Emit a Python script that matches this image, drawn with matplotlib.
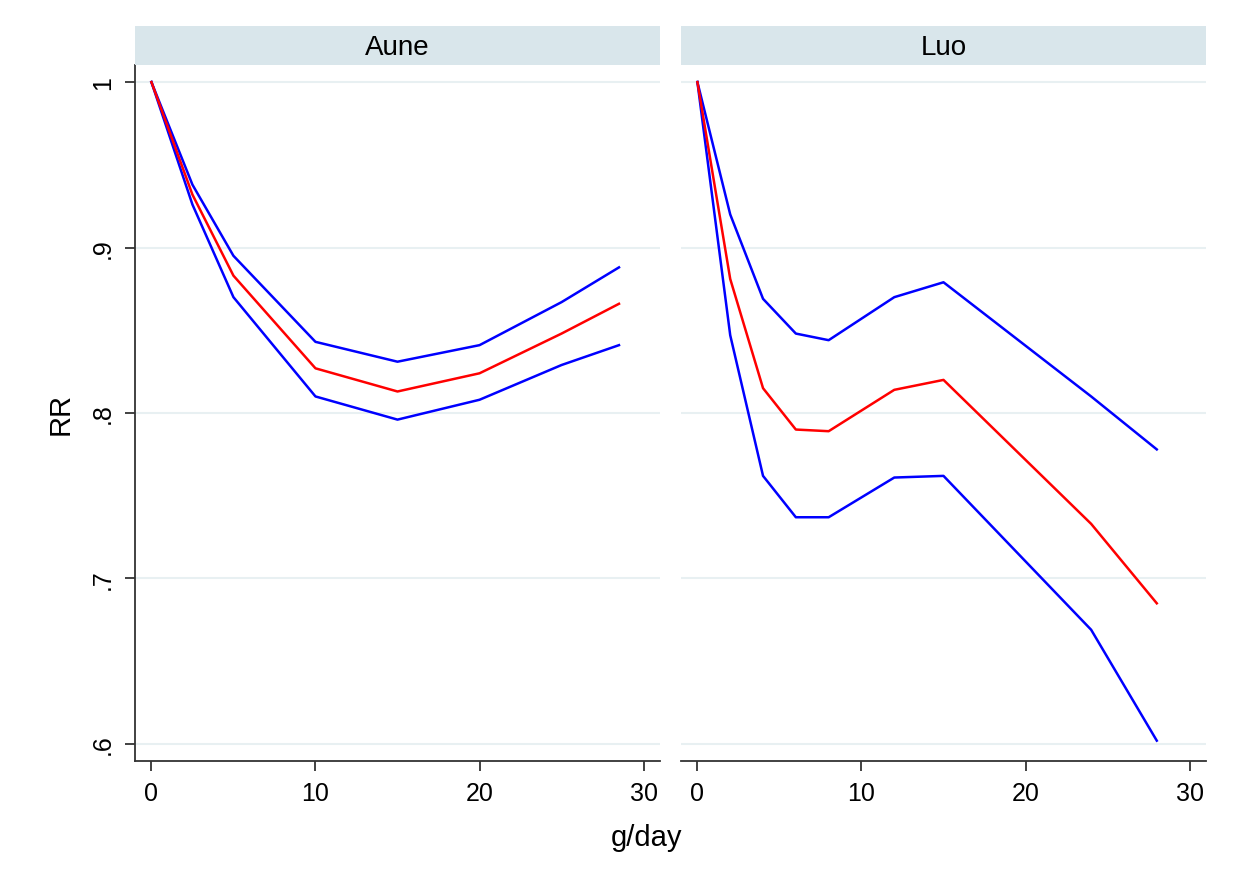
import matplotlib
matplotlib.use("Agg")
import matplotlib.pyplot as plt
from matplotlib.patches import Rectangle

plt.rcParams['font.family'] = ['Liberation Sans', 'DejaVu Sans']

# Data
panels = ["Aune", "Luo"]
aune_x = [0, 2.5, 5, 10, 15, 20, 25, 28.5]
aune_rr = [1.0, 0.932, 0.883, 0.827, 0.813, 0.824, 0.848, 0.866]
aune_hi = [1.0, 0.938, 0.895, 0.843, 0.831, 0.841, 0.867, 0.888]
aune_lo = [1.0, 0.926, 0.870, 0.810, 0.796, 0.808, 0.829, 0.841]

luo_x = [0, 2, 4, 6, 8, 12, 15, 24, 28]
luo_rr = [1.0, 0.881, 0.815, 0.790, 0.789, 0.814, 0.820, 0.733, 0.685]
luo_hi = [1.0, 0.920, 0.869, 0.848, 0.844, 0.870, 0.879, 0.810, 0.778]
luo_lo = [1.0, 0.847, 0.762, 0.737, 0.737, 0.761, 0.762, 0.669, 0.602]

yticks = [0.6, 0.7, 0.8, 0.9, 1.0]
ytick_labels = [".6", ".7", ".8", ".9", "1"]
xticks = [0, 10, 20, 30]

W, H = 1234, 879
fig = plt.figure(figsize=(W / 100, H / 100), dpi=100)

def fx(px):
    return px / W

def fy(py):
    return 1 - py / H

ax_top, ax_bot = 66, 762
hdr_top = 27
lefts = [(135, 660), (681, 1206)]
data = [(aune_x, aune_lo, aune_rr, aune_hi), (luo_x, luo_lo, luo_rr, luo_hi)]

grid_col = "#e8f0f2"
hdr_col = "#d9e6eb"
spine_col = "#333333"

for i, ((l, r), name, (x, lo, rr, hi)) in enumerate(zip(lefts, panels, data)):
    ax = fig.add_axes([fx(l), fy(ax_bot), fx(r) - fx(l), fy(ax_top) - fy(ax_bot)])
    ax.set_xlim(-1, 31)
    ax.set_ylim(0.5897, 1.0103)
    for yt in yticks:
        ax.axhline(yt, color=grid_col, lw=1.5, zorder=0)
    ax.plot(x, lo, color="#0000ff", lw=1.8, zorder=3)
    ax.plot(x, hi, color="#0000ff", lw=1.8, zorder=3)
    ax.plot(x, rr, color="#ff0000", lw=1.8, zorder=4)
    for s in ["top", "right"]:
        ax.spines[s].set_visible(False)
    ax.spines["bottom"].set_color(spine_col)
    ax.spines["bottom"].set_linewidth(1.3)
    ax.set_xticks(xticks)
    ax.set_xticklabels([str(t) for t in xticks])
    ax.tick_params(axis="x", direction="out", length=7.5, width=1.3, color=spine_col,
                   labelsize=18, pad=7)
    if i == 0:
        ax.spines["left"].set_color(spine_col)
        ax.spines["left"].set_linewidth(1.3)
        ax.set_yticks(yticks)
        ax.set_yticklabels(ytick_labels, rotation=90, va="center")
        ax.tick_params(axis="y", direction="out", length=7.5, width=1.3, color=spine_col,
                       labelsize=18, pad=7)
        ax.set_ylabel("RR", fontsize=21, labelpad=12)
    else:
        ax.spines["left"].set_visible(False)
        ax.set_yticks([])
    ax.patch.set_alpha(0)

    hax = fig.add_axes([fx(l), fy(ax_top), fx(r) - fx(l), fy(hdr_top) - fy(ax_top)])
    hax.set_axis_off()
    hax.add_patch(Rectangle((0, 0), 1, 1, transform=hax.transAxes, color=hdr_col))
    hax.text(0.5, 0.47, name, ha="center", va="center", fontsize=20, transform=hax.transAxes)

fig.text(fx(646), fy(838), "g/day", ha="center", va="center", fontsize=21)

fig.savefig("out.png", dpi=100, facecolor="white")
